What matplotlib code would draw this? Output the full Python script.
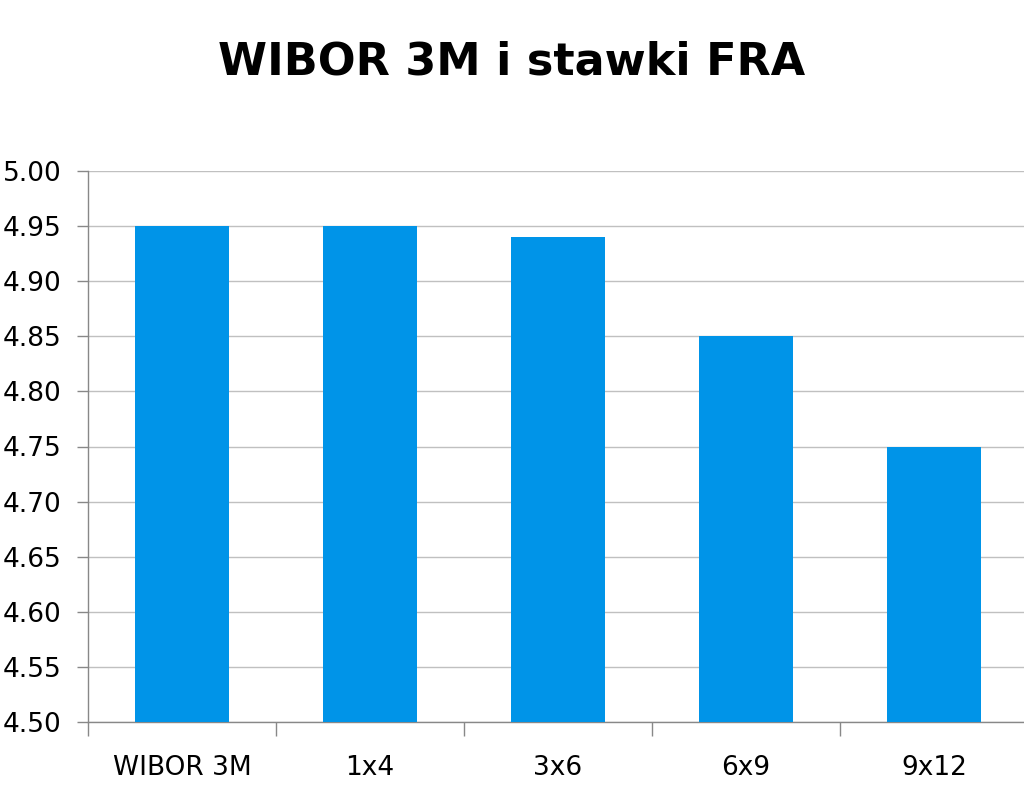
import numpy as np
import matplotlib.pyplot as plt

# Data
categories = ["WIBOR 3M", "1x4", "3x6", "6x9", "9x12"]
rates = [4.95, 4.95, 4.94, 4.85, 4.75]
y_ticks = [4.50, 4.55, 4.60, 4.65, 4.70, 4.75, 4.80, 4.85, 4.90, 4.95, 5.00]

plt.rcParams['font.family'] = ['DejaVu Sans']

fig = plt.figure(figsize=(10.24, 7.91), dpi=100)
ax = fig.add_axes([88/1024, 69/791, 940/1024, 551/791])

x = np.arange(len(categories))
ax.bar(x, rates, width=0.5, color="#0094E8", zorder=3)

ax.set_ylim(4.50, 5.00)
ax.set_yticks(y_ticks)
ax.set_yticklabels([f"{v:.2f}" for v in y_ticks])
ax.set_xlim(-0.5, len(categories) - 0.5)
ax.set_xticks(x)
ax.set_xticklabels(categories)
ax.set_xticks(np.arange(len(categories) + 1) - 0.5, minor=True)

ax.grid(axis="y", color="#C0C0C0", linewidth=1, zorder=0)
for s in ["top", "right"]:
    ax.spines[s].set_visible(False)
for s in ["left", "bottom"]:
    ax.spines[s].set_color("#888888")
    ax.spines[s].set_linewidth(1)

ax.tick_params(axis="y", length=8, width=1, color="#888888", pad=11, labelsize=19)
ax.tick_params(axis="x", which="major", length=0, pad=24, labelsize=19)
ax.tick_params(axis="x", which="minor", length=10, width=1, color="#888888")

fig.text(0.5, 1 - 62/791, "WIBOR 3M i stawki FRA", ha="center", va="center",
         fontsize=32, fontweight="bold")

fig.savefig("out.png", dpi=100)
